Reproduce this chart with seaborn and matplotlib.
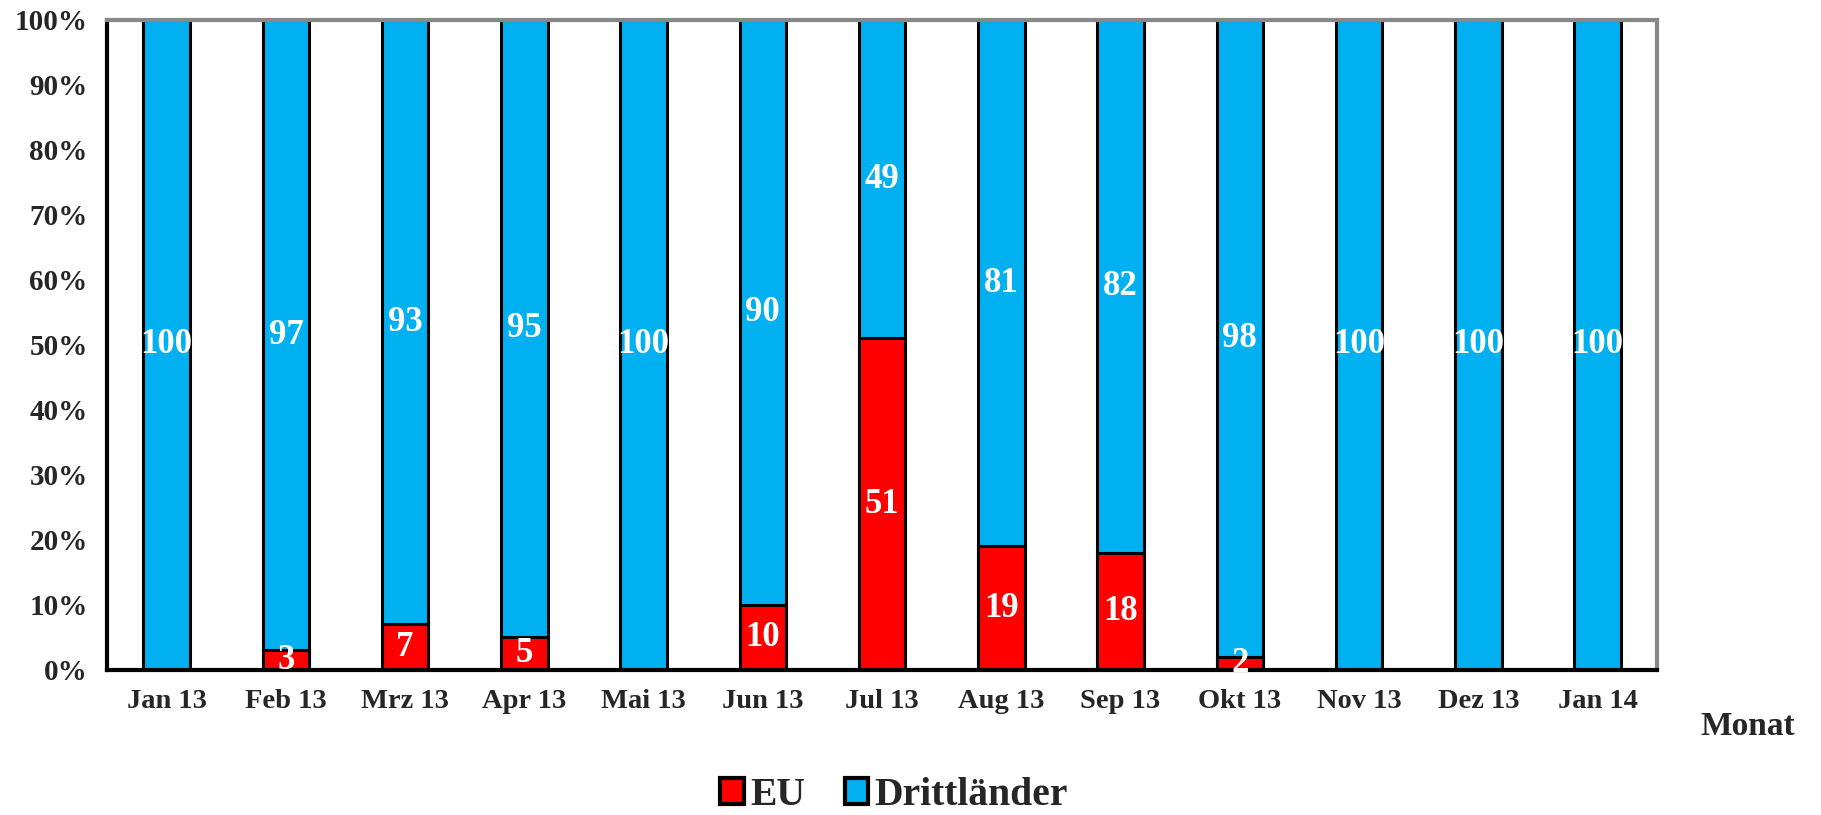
import numpy as np
import pandas as pd
import matplotlib.pyplot as plt
import seaborn as sns
from matplotlib.patches import Patch

months = ["Jan 13", "Feb 13", "Mrz 13", "Apr 13", "Mai 13", "Jun 13", "Jul 13",
          "Aug 13", "Sep 13", "Okt 13", "Nov 13", "Dez 13", "Jan 14"]
eu = [0, 3, 7, 5, 0, 10, 51, 19, 18, 2, 0, 0, 0]
dritt = [100, 97, 93, 95, 100, 90, 49, 81, 82, 98, 100, 100, 100]

red = "#FF0000"
blue = "#00B0F0"

df = pd.DataFrame({"Monat": months, "EU": eu, "Drittländer": dritt})
df["Gesamt"] = df["EU"] + df["Drittländer"]

sns.set_style("white")
plt.rcParams["font.family"] = ["Liberation Serif", "DejaVu Serif"]
plt.rcParams["font.weight"] = "bold"

fig = plt.figure(figsize=(18.21, 8.15), dpi=100)
ax = fig.add_axes([0.0588, 0.178, 0.8512, 0.7975])

sns.barplot(data=df, x="Monat", y="Gesamt", color=blue, width=0.39,
            edgecolor="black", linewidth=2.2, saturation=1, ax=ax)
sns.barplot(data=df, x="Monat", y="EU", color=red, width=0.39,
            edgecolor="black", linewidth=2.2, saturation=1, ax=ax)

# value labels
for i, (e, d) in enumerate(zip(eu, dritt)):
    if e > 0:
        ax.text(i, e / 2, str(e), ha="center", va="center", color="white",
                fontsize=25, fontweight="bold")
    if d > 0:
        ax.text(i, e + d / 2, str(d), ha="center", va="center", color="white",
                fontsize=25, fontweight="bold")

ax.set_xlim(-0.5, len(months) - 0.5)
ax.set_ylim(0, 100)
ax.set_yticks(np.arange(0, 101, 10))
ax.set_yticklabels([f"{v}%" for v in range(0, 101, 10)])
ax.set_xticks(np.arange(len(months)))
ax.set_xticklabels(months)
ax.set_xticks(np.arange(-0.5, len(months), 1), minor=True)
ax.tick_params(axis="x", which="major", length=0, labelsize=20.5, pad=14)
ax.tick_params(axis="x", which="minor", direction="inout", length=16, width=3, color="black")
ax.tick_params(axis="y", direction="inout", length=16, width=3, labelsize=21, pad=6, color="black")
for lab in ax.get_xticklabels() + ax.get_yticklabels():
    lab.set_fontweight("bold")

ax.set_xlabel("")
ax.set_ylabel("")
ax.spines["left"].set_color("black")
ax.spines["left"].set_linewidth(3)
ax.spines["bottom"].set_color("black")
ax.spines["bottom"].set_linewidth(3)
ax.spines["top"].set_color("#888888")
ax.spines["top"].set_linewidth(3)
ax.spines["right"].set_color("#888888")
ax.spines["right"].set_linewidth(3)
for s in ax.spines.values():
    s.set_visible(True)

fig.text(0.96, 0.109, "Monat", ha="center", va="center", fontsize=24, fontweight="bold")

handles = [Patch(facecolor=red, edgecolor="black", linewidth=3, label="EU"),
           Patch(facecolor=blue, edgecolor="black", linewidth=3, label="Drittländer")]
fig.legend(handles=handles, loc="center", bbox_to_anchor=(0.491, 0.024), ncol=2,
           frameon=False, prop={"size": 28.5, "weight": "bold"},
           handlelength=0.6, handleheight=0.6, handletextpad=0.15, columnspacing=1.0)

fig.savefig("out.png", dpi=100)
